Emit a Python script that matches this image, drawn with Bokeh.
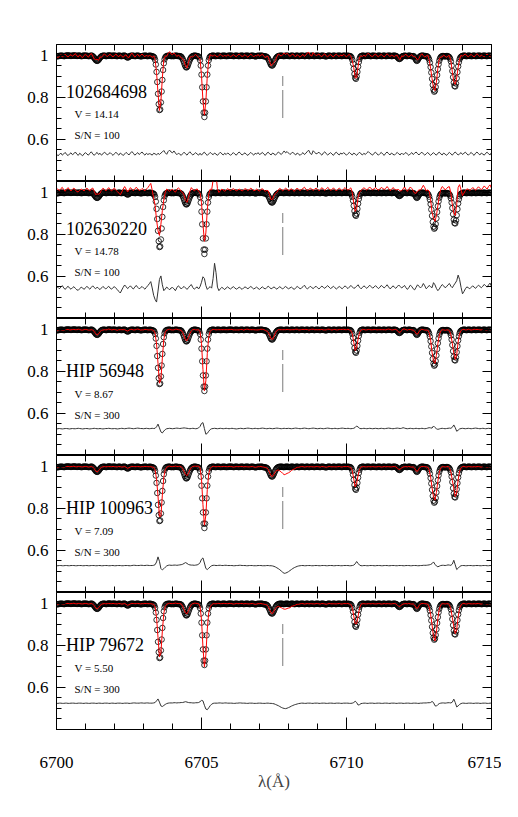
import numpy as np
from bokeh.plotting import figure
from bokeh.layouts import column
from bokeh.models import Range1d, LinearAxis, FixedTicker
from bokeh.core.properties import value
from bokeh.embed import file_html
from bokeh.resources import INLINE

# ---------------- data ----------------
wave_start = 6700.0
fine_step = 0.025      # template (open circles) sampling, Angstrom
coarse_step = 0.05     # star spectrum / residual sampling, Angstrom

# template spectrum (open circles), flux x 1000, two rows per Angstrom
template_milli = [
    994, 994, 995, 995, 996, 996, 997, 997, 996, 996, 995, 995, 996, 997, 997, 998, 998, 997, 997, 996,
    996, 996, 997, 997, 998, 998, 997, 996, 996, 996, 997, 997, 997, 996, 995, 995, 996, 997, 997, 997,
    997, 997, 996, 996, 995, 995, 996, 996, 997, 997, 994, 991, 987, 982, 977, 974, 972, 974, 977, 982,
    987, 991, 994, 996, 996, 997, 997, 996, 995, 995, 996, 997, 998, 998, 997, 996, 996, 996, 997, 997,
    997, 996, 996, 995, 995, 996, 997, 997, 996, 995, 995, 996, 996, 997, 997, 996, 993, 990, 988, 989,
    992, 995, 996, 996, 997, 997, 996, 996, 995, 995, 996, 997, 997, 996, 996, 995, 994, 994, 995, 996,
    996, 996, 997, 997, 996, 995, 995, 996, 996, 997, 996, 995, 994, 993, 992, 988, 977, 955, 920, 872,
    816, 767, 739, 742, 775, 827, 882, 929, 961, 980, 989, 993, 995, 996, 996, 997, 997, 996, 995, 995,
    996, 995, 995, 996, 997, 997, 996, 996, 995, 995, 995, 994, 992, 988, 981, 973, 963, 953, 945, 941,
    943, 949, 959, 969, 978, 985, 990, 993, 995, 996, 997, 997, 996, 996, 995, 994, 993, 988, 976, 950,
    907, 847, 780, 727, 706, 727, 780, 847, 907, 950, 976, 988, 993, 995, 996, 997, 997, 996, 996, 995,
    995, 996, 997, 997, 996, 996, 995, 995, 996, 996, 997, 997, 996, 996, 995, 995, 996, 996, 997, 997,
    997, 997, 996, 996, 995, 995, 996, 997, 997, 996, 996, 995, 995, 996, 996, 997, 997, 996, 995, 995,
    996, 996, 997, 997, 996, 996, 995, 995, 996, 997, 997, 996, 996, 995, 994, 994, 995, 996, 996, 997,
    996, 996, 997, 997, 996, 995, 995, 994, 993, 993, 991, 988, 983, 976, 968, 959, 953, 950, 951, 957,
    964, 973, 980, 986, 990, 993, 995, 996, 996, 997, 997, 996, 996, 995, 995, 996, 996, 997, 997, 996,
    996, 995, 995, 996, 997, 997, 996, 996, 995, 995, 996, 997, 997, 996, 995, 995, 996, 996, 997, 997,
    996, 996, 995, 995, 996, 997, 997, 996, 995, 995, 996, 996, 997, 997, 996, 995, 995, 996, 996, 997,
    997, 996, 996, 995, 995, 996, 997, 997, 996, 996, 995, 994, 994, 995, 996, 997, 997, 996, 996, 995,
    995, 996, 997, 997, 996, 995, 995, 996, 996, 997, 997, 996, 996, 995, 995, 996, 997, 997, 996, 996,
    996, 996, 997, 996, 995, 995, 993, 988, 977, 959, 935, 910, 892, 887, 898, 920, 945, 967, 982, 991,
    995, 996, 997, 997, 996, 995, 995, 996, 996, 997, 997, 996, 996, 995, 995, 996, 997, 997, 996, 996,
    996, 995, 995, 996, 997, 997, 996, 996, 995, 995, 996, 997, 997, 996, 995, 995, 996, 996, 997, 997,
    996, 996, 995, 995, 996, 997, 997, 996, 996, 994, 991, 987, 983, 981, 983, 987, 991, 994, 995, 996,
    997, 996, 996, 995, 995, 996, 997, 997, 996, 995, 995, 994, 995, 994, 989, 983, 976, 972, 975, 981,
    987, 992, 995, 996, 997, 997, 996, 996, 995, 995, 994, 994, 992, 987, 978, 964, 943, 917, 887, 858,
    836, 826, 831, 848, 875, 905, 933, 956, 973, 984, 990, 993, 995, 995, 995, 994, 994, 994, 995, 995,
    994, 992, 989, 982, 970, 950, 924, 895, 869, 853, 851, 865, 890, 919, 946, 966, 980, 988, 992, 994,
    996, 996, 997, 997, 996, 995, 995, 996, 997, 997, 996, 996, 995, 995, 996, 997, 997, 996, 995, 995,
    996, 996, 997, 997, 996, 996, 995, 995, 996, 997, 997, 996, 996, 995, 995, 996, 997, 997, 996, 996,
    996,
]

# residual (star - template, offset), x 1000, one row per Angstrom at 0.05 A
resid_102684698 = [
    530, 522, 528, 535, 525, 531, 538, 528, 523, 531, 536, 527, 532, 540, 530, 524, 534, 528, 522, 531,
    537, 530, 525, 534, 541, 531, 524, 532, 538, 528, 534, 525, 531, 539, 534, 526, 531, 537, 530, 524,
    532, 539, 531, 525, 535, 530, 523, 531, 538, 532, 526, 535, 542, 534, 525, 531, 537, 528, 534, 540,
    531, 525, 534, 528, 532, 530, 525, 534, 531, 526, 534, 528, 535, 540, 547, 536, 529, 542, 549, 540,
    536, 545, 535, 527, 534, 530, 524, 532, 539, 531, 525, 534, 541, 532, 526, 531, 537, 530, 525, 534,
    525, 534, 539, 530, 524, 531, 538, 532, 527, 535, 530, 524, 532, 539, 531, 526, 534, 528, 535, 531,
    524, 531, 537, 530, 525, 534, 540, 532, 526, 531, 536, 528, 524, 532, 538, 531, 525, 534, 530, 537,
    528, 532, 538, 530, 524, 534, 539, 531, 526, 535, 531, 525, 532, 540, 534, 528, 536, 545, 536, 542,
    535, 528, 534, 539, 531, 526, 535, 530, 524, 531, 537, 528, 534, 543, 548, 533, 528, 546, 539, 531,
    534, 539, 531, 525, 535, 541, 532, 526, 531, 537, 530, 524, 534, 539, 531, 526, 535, 530, 537, 531,
    525, 532, 538, 531, 526, 535, 530, 524, 532, 539, 531, 526, 534, 528, 536, 542, 535, 530, 525, 534,
    539, 531, 525, 532, 538, 530, 524, 534, 540, 532, 526, 535, 530, 525, 532, 538, 531, 526, 535, 528,
    532, 538, 530, 524, 531, 537, 528, 534, 540, 532, 526, 534, 539, 531, 525, 532, 538, 530, 524, 531,
    537, 530, 525, 534, 539, 531, 526, 535, 530, 524, 532, 538, 531, 525, 534, 540, 532, 526, 531, 537,
    528, 534, 539, 531, 525, 532, 538, 530, 524, 534, 540, 532, 526, 535, 530, 525, 534, 539, 531, 526,
    538,
]
resid_102630220 = [
    552, 548, 541, 549, 556, 545, 538, 547, 553, 544, 539, 546, 551, 543, 536, 534, 541, 549, 545, 538,
    546, 553, 545, 539, 548, 555, 547, 541, 549, 543, 537, 545, 552, 546, 540, 547, 553, 544, 539, 547,
    551, 543, 537, 528, 521, 535, 548, 559, 551, 542, 548, 555, 546, 540, 549, 557, 548, 541, 546, 552,
    545, 539, 548, 556, 565, 575, 545, 510, 490, 478, 530, 585, 602, 560, 532, 540, 549, 543, 536, 545,
    547, 541, 532, 546, 555, 549, 540, 547, 552, 545, 538, 546, 555, 561, 547, 539, 545, 550, 540, 551,
    572, 598, 590, 556, 538, 546, 551, 544, 590, 662, 618, 549, 532, 541, 548, 543, 537, 545, 550, 544,
    540, 546, 551, 545, 539, 543, 549, 544, 538, 545, 550, 546, 541, 547, 552, 546, 540, 544, 549, 543,
    538, 545, 550, 544, 540, 547, 553, 547, 541, 545, 550, 544, 539, 546, 551, 545, 540, 547, 552, 546,
    541, 545, 549, 543, 538, 546, 552, 547, 541, 545, 551, 558, 547, 540, 546, 553, 547, 542, 548, 553,
    546, 540, 547, 554, 548, 543, 550, 556, 549, 542, 547, 553, 546, 540, 546, 552, 547, 541, 548, 555,
    548, 542, 549, 557, 550, 543, 546, 553, 560, 548, 541, 547, 555, 549, 543, 550, 558, 551, 544, 549,
    556, 549, 542, 548, 557, 551, 545, 552, 560, 550, 541, 546, 555, 549, 543, 551, 559, 552, 545, 550,
    557, 546, 538, 547, 558, 552, 541, 536, 548, 560, 553, 545, 552, 566, 555, 541, 548, 557, 551, 546,
    570, 560, 543, 532, 540, 552, 561, 555, 546, 551, 560, 566, 553, 546, 558, 568, 579, 606, 585, 548,
    517, 528, 541, 550, 546, 541, 548, 555, 549, 543, 551, 558, 552, 546, 553, 562, 555, 549, 560, 568,
    552,
]
resid_hip56948 = [
    526, 527, 528, 527, 526, 527, 528, 528, 527, 526, 527, 528, 527, 527, 528, 529, 528, 527, 526, 527,
    528, 528, 527, 526, 527, 528, 529, 528, 527, 527, 528, 527, 526, 527, 528, 528, 529, 528, 527, 527,
    528, 527, 526, 527, 528, 529, 528, 527, 528, 529, 530, 529, 528, 527, 528, 529, 530, 529, 528, 528,
    527, 528, 529, 528, 527, 528, 529, 528, 529, 536, 549, 531, 512, 507, 516, 523, 527, 528, 529, 528,
    527, 528, 529, 530, 529, 528, 529, 530, 531, 530, 529, 528, 527, 528, 529, 528, 527, 528, 531, 538,
    552, 556, 528, 501, 505, 515, 523, 527, 528, 529, 528, 527, 528, 529, 528, 527, 528, 529, 528, 527,
    528, 529, 528, 527, 526, 527, 528, 529, 528, 527, 528, 529, 530, 529, 528, 527, 528, 529, 528, 527,
    528, 529, 530, 529, 528, 527, 528, 529, 528, 527, 528, 529, 530, 529, 528, 527, 528, 529, 528, 528,
    529, 528, 527, 528, 529, 530, 529, 528, 527, 528, 529, 530, 529, 528, 527, 528, 529, 530, 529, 528,
    527, 528, 529, 528, 527, 528, 529, 530, 529, 528, 527, 528, 529, 528, 527, 528, 529, 530, 529, 528,
    528, 529, 528, 527, 528, 529, 533, 540, 535, 529, 527, 528, 529, 528, 527, 528, 529, 528, 527, 528,
    529, 528, 527, 528, 529, 528, 527, 528, 529, 530, 529, 528, 527, 528, 529, 530, 529, 528, 529, 532,
    530, 528, 527, 528, 529, 528, 527, 528, 529, 528, 527, 528, 529, 528, 527, 528, 530, 532, 531, 530,
    540, 533, 527, 524, 526, 528, 529, 528, 527, 528, 529, 530, 529, 534, 545, 532, 515, 520, 526, 528,
    529, 528, 527, 528, 529, 528, 527, 528, 529, 530, 529, 528, 527, 528, 529, 528, 527, 528, 529, 528,
    528,
]
resid_hip100963 = [
    527, 527, 528, 528, 527, 527, 528, 528, 527, 527, 528, 528, 528, 527, 527, 528, 528, 528, 527, 527,
    528, 528, 527, 527, 528, 528, 528, 527, 527, 528, 528, 527, 527, 528, 528, 528, 527, 527, 528, 528,
    527, 527, 528, 528, 528, 527, 527, 528, 528, 528, 527, 527, 528, 529, 529, 528, 528, 528, 529, 529,
    528, 528, 529, 529, 528, 528, 528, 529, 532, 545, 569, 548, 514, 507, 513, 520, 526, 529, 530, 529,
    529, 530, 530, 529, 530, 531, 532, 534, 538, 542, 538, 533, 531, 530, 530, 529, 530, 531, 534, 542,
    558, 564, 540, 514, 509, 515, 522, 527, 529, 529, 528, 528, 529, 529, 528, 528, 529, 529, 528, 528,
    528, 528, 527, 527, 528, 528, 529, 529, 528, 528, 528, 527, 527, 528, 528, 528, 527, 527, 527, 528,
    528, 528, 527, 527, 527, 528, 528, 527, 527, 526, 524, 521, 517, 513, 508, 502, 496, 491, 492, 495,
    499, 504, 509, 514, 518, 521, 524, 526, 527, 528, 528, 527, 527, 528, 528, 528, 527, 527, 528, 528,
    528, 527, 527, 528, 528, 528, 527, 527, 528, 528, 528, 527, 527, 528, 528, 528, 527, 527, 528, 528,
    528, 528, 527, 527, 528, 530, 536, 547, 538, 530, 527, 527, 528, 528, 527, 527, 528, 528, 528, 527,
    527, 528, 528, 528, 527, 527, 528, 528, 528, 527, 527, 528, 528, 528, 527, 527, 528, 528, 528, 527,
    527, 528, 528, 528, 527, 527, 528, 528, 528, 527, 527, 528, 528, 529, 529, 529, 530, 531, 533, 537,
    545, 534, 526, 522, 525, 528, 529, 529, 528, 529, 531, 530, 529, 535, 553, 531, 509, 515, 523, 527,
    528, 528, 527, 527, 528, 528, 528, 527, 527, 528, 528, 528, 527, 527, 528, 528, 528, 527, 527, 528,
    528,
]
resid_hip79672 = [
    524, 524, 525, 525, 524, 524, 525, 525, 524, 524, 525, 525, 525, 524, 524, 525, 525, 525, 524, 524,
    525, 525, 524, 524, 525, 525, 525, 524, 524, 525, 525, 524, 524, 525, 525, 525, 524, 524, 525, 525,
    524, 524, 525, 525, 525, 524, 524, 525, 525, 525, 524, 524, 525, 526, 526, 525, 525, 525, 526, 526,
    525, 525, 526, 526, 525, 525, 525, 526, 528, 536, 545, 530, 512, 509, 514, 519, 523, 525, 526, 526,
    526, 527, 527, 526, 527, 527, 528, 528, 530, 532, 530, 528, 527, 527, 526, 526, 527, 527, 528, 532,
    538, 536, 515, 497, 494, 503, 513, 520, 524, 525, 525, 525, 526, 526, 525, 525, 526, 526, 525, 525,
    525, 525, 524, 524, 525, 525, 526, 526, 525, 525, 525, 524, 524, 525, 525, 525, 524, 524, 524, 525,
    525, 525, 524, 524, 524, 525, 525, 524, 524, 523, 522, 519, 516, 513, 509, 505, 502, 500, 499, 501,
    504, 507, 511, 514, 517, 519, 521, 523, 524, 525, 525, 524, 524, 525, 525, 525, 524, 524, 525, 525,
    525, 524, 524, 525, 525, 525, 524, 524, 525, 525, 525, 524, 524, 525, 525, 525, 524, 524, 525, 525,
    525, 525, 524, 524, 525, 528, 534, 528, 516, 518, 523, 524, 525, 525, 524, 524, 525, 525, 525, 524,
    524, 525, 525, 525, 524, 524, 525, 525, 525, 524, 524, 525, 525, 525, 524, 524, 525, 525, 525, 524,
    524, 525, 525, 525, 524, 524, 525, 525, 525, 524, 524, 525, 525, 526, 526, 526, 527, 527, 528, 533,
    528, 513, 511, 518, 523, 525, 526, 526, 525, 526, 527, 527, 526, 530, 544, 528, 507, 512, 519, 523,
    525, 525, 524, 524, 525, 525, 525, 524, 524, 525, 525, 525, 524, 524, 525, 525, 525, 524, 524, 525,
    525,
]
residuals = [resid_102684698, resid_102630220, resid_hip56948, resid_hip100963, resid_hip79672]
resid_zero = [0.530, 0.530, 0.527, 0.527, 0.524]   # residual level where star == template

star_names = ["102684698", "102630220", "HIP 56948", "HIP 100963", "HIP 79672"]
v_mags = ["14.14", "14.78", "8.67", "7.09", "5.50"]
snr = ["100", "100", "300", "300", "300"]

li_wave = 6707.8        # dashed marker
li_top, li_bottom = 0.90, 0.70

x_lo, x_hi = 6700, 6715
y_lo, y_hi = 0.4, 1.05
x_major = [6700, 6705, 6710, 6715]
x_minor = list(range(6700, 6716))
y_major = [0.4, 0.6, 0.8, 1.0]
y_minor = [0.40, 0.45, 0.50, 0.55, 0.60, 0.65, 0.70, 0.75, 0.80, 0.85, 0.90, 0.95, 1.00, 1.05]

# label positions (data coords)
name_x, small_x = 6700.33, 6700.62
name_y = [0.829, 0.829, 0.800, 0.800, 0.800]
vmag_y = [0.721, 0.721, 0.694, 0.694, 0.694]
snr_y = [0.619, 0.619, 0.590, 0.590, 0.590]

# ---------------- plotting ----------------
FONT = "Liberation Serif"
FRAME_W, FRAME_H = 435, 137
MAJOR_PX, MINOR_PX = 12, 6          # x tick lengths (pixels)
px_to_y = (y_hi - y_lo) / FRAME_H

template = np.array(template_milli, dtype=float) / 1000.0
x_fine = wave_start + fine_step * np.arange(len(template))

# x tick marks for panel tops / bottoms (from the tick lists)
tick_x = np.array(x_minor, dtype=float)
tick_len = np.array([MAJOR_PX if t in x_major else MINOR_PX for t in x_minor]) * px_to_y


def style_axis(ax, major_len, minor_len, labels, standoff=8):
    ax.major_tick_in = major_len
    ax.major_tick_out = 0
    ax.minor_tick_in = minor_len
    ax.minor_tick_out = 0
    ax.axis_line_color = "black"
    ax.major_tick_line_color = "black"
    ax.minor_tick_line_color = "black"
    ax.major_label_text_font = FONT
    ax.major_label_text_font_size = "17px"
    if labels:
        ax.major_label_text_color = "black"
        ax.major_label_standoff = standoff
    else:
        ax.major_label_text_color = None
        ax.major_label_standoff = 0


panels = []
for i in range(5):
    first, last = i == 0, i == 4
    p = figure(frame_width=FRAME_W, frame_height=FRAME_H, title=None,
               x_range=Range1d(x_lo, x_hi), y_range=Range1d(y_lo, y_hi),
               x_axis_location=None, y_axis_location=None,
               output_backend="svg", toolbar_location=None,
               min_border_left=56, min_border_right=10,
               min_border_top=44 if first else 0,
               min_border_bottom=74 if last else 0,
               outline_line_color="black", outline_line_width=1,
               background_fill_color="white", border_fill_color="white")
    p.grid.grid_line_color = None
    p.grid.visible = False

    yt = FixedTicker(ticks=y_major, minor_ticks=y_minor)
    left = LinearAxis(ticker=yt)
    style_axis(left, 9, 5, True, standoff=8)
    left.major_label_overrides = {1: "1", 0.4: ""}
    p.add_layout(left, "left")

    right = LinearAxis(ticker=yt)
    style_axis(right, 9, 5, False)
    p.add_layout(right, "right")

    if last:
        xt = FixedTicker(ticks=x_major, minor_ticks=x_minor)
        bottom = LinearAxis(ticker=xt)
        style_axis(bottom, MAJOR_PX, MINOR_PX, True, standoff=27)
        bottom.axis_label = "λ(Å)"
        bottom.axis_label_text_font = FONT
        bottom.axis_label_text_font_size = "17px"
        bottom.axis_label_text_font_style = "normal"
        bottom.axis_label_standoff = 1
        p.add_layout(bottom, "below")
    else:
        p.segment(x0=tick_x, y0=np.full_like(tick_x, y_lo), x1=tick_x, y1=y_lo + tick_len,
                  line_color="black", line_width=1)
    p.segment(x0=tick_x, y0=np.full_like(tick_x, y_hi), x1=tick_x, y1=y_hi - tick_len,
              line_color="black", line_width=1)

    res = np.array(residuals[i], dtype=float) / 1000.0
    x_coarse = wave_start + coarse_step * np.arange(len(res))
    tmpl_c = template[::2]
    n = min(len(res), len(tmpl_c))
    star = tmpl_c[:n] + res[:n] - resid_zero[i]

    p.scatter(x_fine, template, marker="circle", size=5.5, fill_color=None,
              line_color="black", line_width=0.8)
    p.line(x_coarse[:n], star, line_color="#ff0000", line_width=1)
    p.line(x_coarse, res, line_color="#333333", line_width=1)
    p.segment(x0=[li_wave], y0=[li_top], x1=[li_wave], y1=[li_bottom],
              line_color="#999999", line_width=1.3, line_dash="10 4 28 4")

    p.text(x=[name_x], y=[name_y[i]], text=[star_names[i]], text_font=value(FONT),
           text_font_size="18px", text_baseline="middle", text_align="left", text_color="black")
    p.text(x=[small_x], y=[vmag_y[i]], text=["V = " + v_mags[i]], text_font=value(FONT),
           text_font_size="11px", text_baseline="middle", text_align="left", text_color="black")
    p.text(x=[small_x], y=[snr_y[i]], text=["S/N = " + snr[i]], text_font=value(FONT),
           text_font_size="11px", text_baseline="middle", text_align="left", text_color="black")
    panels.append(p)

layout = column(*panels, spacing=0)
open("out.html", "w").write(file_html(layout, INLINE))
